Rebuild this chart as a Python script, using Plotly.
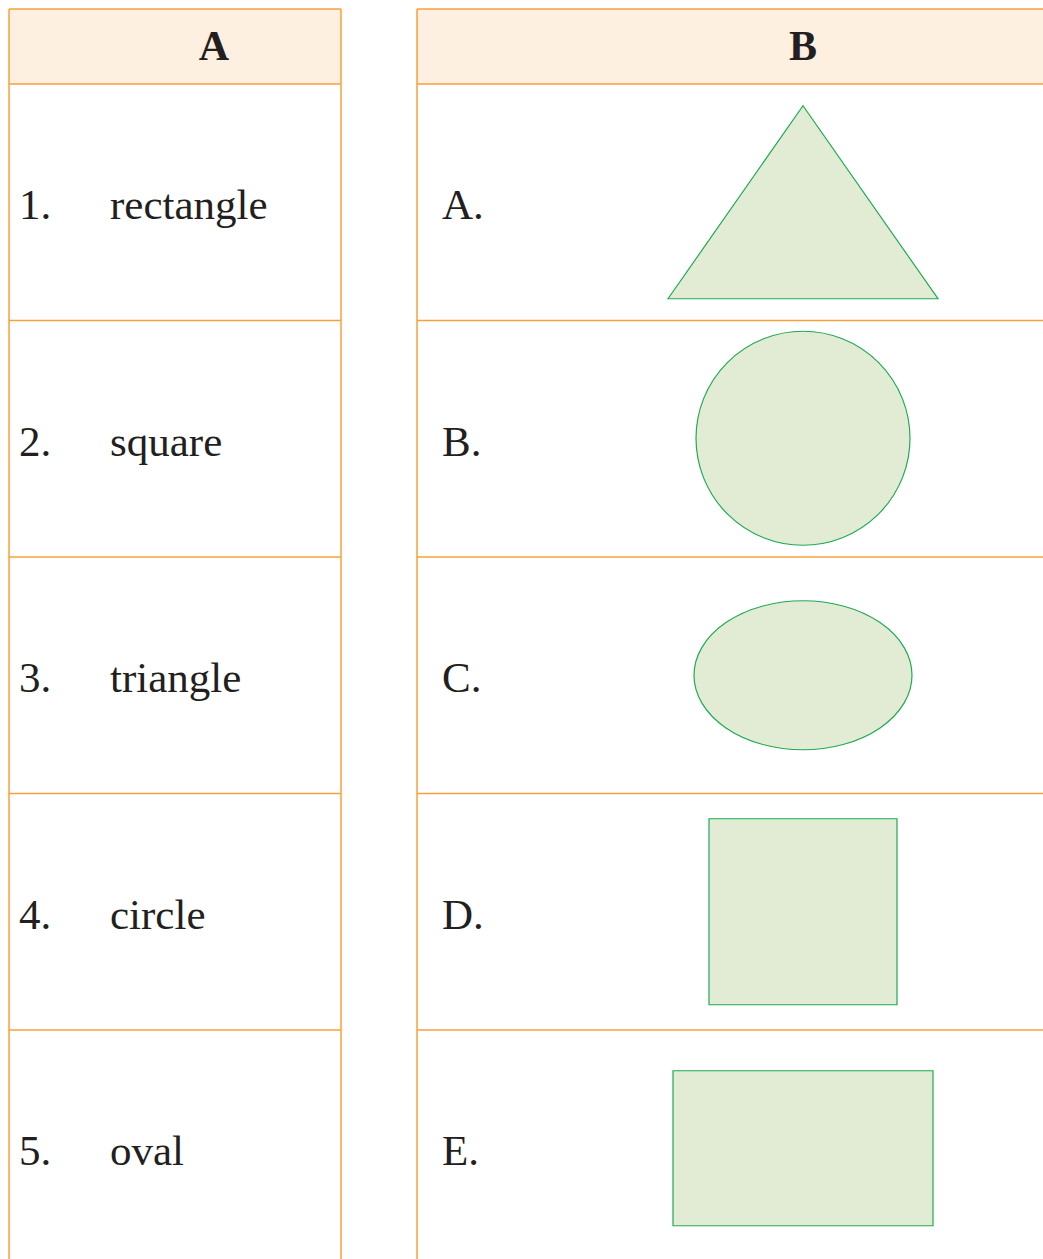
import plotly.graph_objects as go

# table content
col_headers = ["A", "B"]
numbers = ["1.", "2.", "3.", "4.", "5."]
names = ["rectangle", "square", "triangle", "circle", "oval"]
letters = ["A.", "B.", "C.", "D.", "E."]
shape_kinds = ["triangle", "circle", "oval", "square", "rectangle"]

W, H = 1043, 1259
ORANGE = "#F7A03A"
HEAD_FILL = "#FEF0E0"
GREEN_FILL = "#E2ECD5"
GREEN_LINE = "#1FAA52"
TEXT = "#231F20"
FONT = "Liberation Serif, Times New Roman, serif"

top, head_bot = 9, 84
row_h = 236.5
left_x0, left_x1 = 9, 341
right_x0, right_x1 = 417, 1200
shape_cx = 803

# shape sizes (w, h) around the cell center
shape_geom = {
    "triangle": dict(w=270, h=193, dy=0),
    "circle": dict(w=214, h=214, dy=-0.5),
    "oval": dict(w=218, h=149, dy=0),
    "square": dict(w=188, h=186, dy=0),
    "rectangle": dict(w=260, h=155, dy=0),
}

n = len(names)
row_mid = [head_bot + (i + 0.5) * row_h for i in range(n)]

fig = go.Figure()
shapes = []

for x0, x1 in [(left_x0, left_x1), (right_x0, right_x1)]:
    shapes.append(dict(type="rect", x0=x0, x1=x1, y0=top, y1=head_bot,
                       fillcolor=HEAD_FILL, line=dict(width=0), layer="below"))
    for xv in (x0, x1):
        shapes.append(dict(type="line", x0=xv, x1=xv, y0=top, y1=H + 10,
                           line=dict(color=ORANGE, width=1.5)))
    for k in range(n + 1):
        y = top if k == 0 else head_bot + (k - 1) * row_h
        shapes.append(dict(type="line", x0=x0, x1=x1, y0=y, y1=y,
                           line=dict(color=ORANGE, width=1.5)))

for kind, cy in zip(shape_kinds, row_mid):
    g = shape_geom[kind]
    cy = cy + g["dy"]
    x0, x1 = shape_cx - g["w"] / 2, shape_cx + g["w"] / 2
    y0, y1 = cy - g["h"] / 2, cy + g["h"] / 2
    style = dict(fillcolor=GREEN_FILL, line=dict(color=GREEN_LINE, width=1.2))
    if kind == "triangle":
        path = f"M {x0},{y1} L {shape_cx},{y0} L {x1},{y1} Z"
        shapes.append(dict(type="path", path=path, **style))
    elif kind in ("circle", "oval"):
        shapes.append(dict(type="circle", x0=x0, x1=x1, y0=y0, y1=y1, **style))
    else:
        shapes.append(dict(type="rect", x0=x0, x1=x1, y0=y0, y1=y1, **style))

# headers
fig.add_trace(go.Scatter(
    x=[214, shape_cx], y=[(top + head_bot) / 2 + 3] * 2, text=col_headers,
    mode="text", textposition="middle center",
    textfont=dict(family=FONT, size=42, color=TEXT, weight="bold"),
    hoverinfo="skip"))

body_font = dict(family=FONT, size=43, color=TEXT)
for xs, labels in [(19, numbers), (110, names), (442, letters)]:
    fig.add_trace(go.Scatter(
        x=[xs] * n, y=[m + 6 for m in row_mid], text=labels,
        mode="text", textposition="middle right",
        textfont=body_font, hoverinfo="skip"))

fig.update_layout(
    width=W, height=H,
    margin=dict(l=0, r=0, t=0, b=0),
    paper_bgcolor="white", plot_bgcolor="white",
    showlegend=False,
    shapes=shapes,
    xaxis=dict(range=[0, W], visible=False, fixedrange=True),
    yaxis=dict(range=[H, 0], visible=False, fixedrange=True),
)

fig.write_html(
    "out.html",
    config=dict(displayModeBar=False),
    post_script="document.body.style.margin='0';document.body.style.overflow='hidden';",
)
